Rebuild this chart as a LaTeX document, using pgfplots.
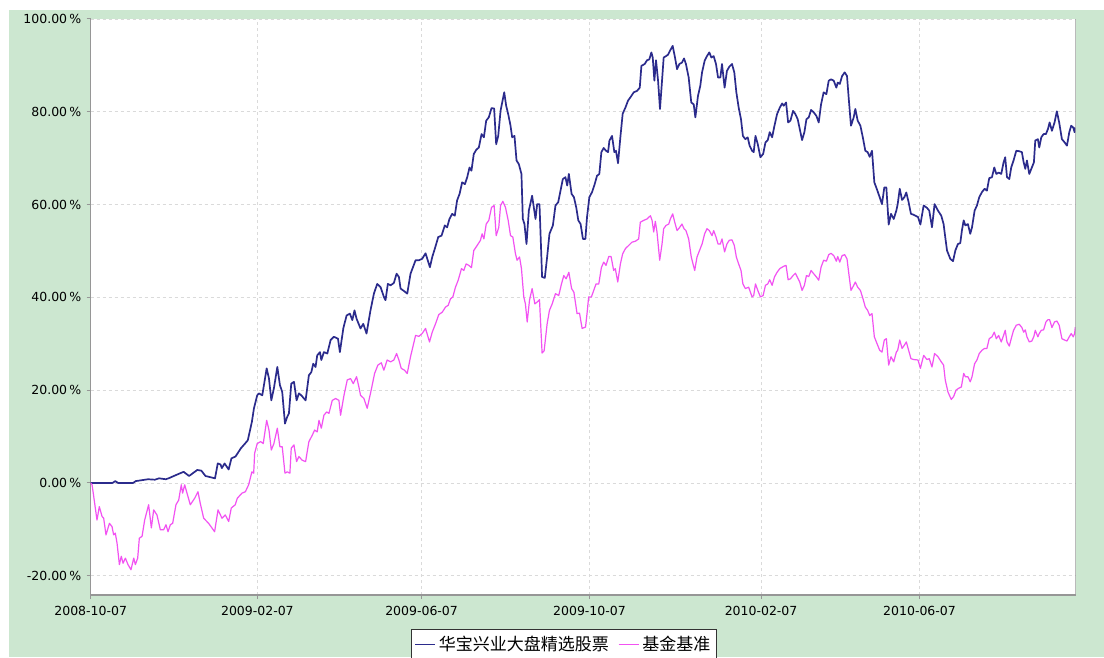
\documentclass[border=0pt]{standalone}
\usepackage{fontspec}
\setmainfont{DejaVu Sans}
\newfontfamily\cjk{Noto Sans CJK SC}
\usepackage{pgfplots}
\pgfplotsset{compat=1.18}
\usepackage{pgfplotstable}
\definecolor{bggreen}{RGB}{204,231,208}
\definecolor{fundblue}{RGB}{43,43,140}
\definecolor{benchmag}{RGB}{242,82,242}
\definecolor{gridgray}{RGB}{218,218,218}
\definecolor{axisgray}{RGB}{150,150,150}

% x: trading-calendar position in days since 2008-10-07, y: cumulative return in %
\pgfplotstableread{
day val
0 0
1 0
16 0
18 0.4
20 0
31 0
33 0.4
42 0.8
47 0.7
50 1.0
55 0.8
57 1.0
62 1.65
68 2.4
72 1.5
78 2.8
81 2.65
84 1.5
91 1.0
93 4.2
95 4.0
96 3.2
98 4.2
101 2.9
103 5.3
106 5.7
110 7.5
113 8.5
115 9.2
118 13.2
119.5 16.1
121.9 18.9
123.1 19.3
125.6 18.9
128.8 24.7
130.5 22.5
132.2 17.8
134.1 20.4
136.6 25.0
138.5 21.1
140.2 19.6
142.2 12.8
143.9 14.3
145.1 15.0
146.8 21.4
148.8 21.8
150.7 17.8
152.4 19.3
154.1 18.9
157.3 17.8
159.7 23.2
161.5 23.9
162.9 25.7
164.6 25.0
165.8 27.5
167.8 28.2
168.8 26.5
170.7 28.2
173.2 27.9
175.6 30.8
178 31.5
181 31.1
182.4 28.2
184.9 33.3
187.3 36.1
189.7 36.5
191.5 35.1
193.1 37.2
194.6 35.4
197.5 33.3
199.5 34.3
201.9 32.2
204.8 37.2
207.3 40.8
209.7 42.9
212.2 42.2
214.6 40.1
215.8 39.4
217.5 42.9
219.5 42.6
221.9 43.1
223.9 45.1
225.6 44.4
226.8 41.9
229.2 41.4
231.7 40.8
234.1 45.1
237.8 48.0
240.2 48.0
242.6 48.3
245.1 49.5
248.3 46.5
250.0 48.7
251.9 50.5
254.4 53.0
256.8 53.3
259.2 55.5
260.9 55.1
262.6 56.9
264.6 58.0
266.5 57.6
268.2 60.9
270.0 62.3
271.9 64.8
273.9 64.4
275.6 65.9
277.3 68.0
278.7 67.3
280.4 70.9
282.2 71.8
284.1 72.3
286.1 75.2
287.8 74.5
289.5 78.1
291.4 78.8
293.4 80.8
295.3 80.7
296.8 73.0
298.3 74.8
300.0 80.2
301.2 82.0
302.7 84.2
304.1 81.3
305.6 79.5
307.3 77.0
308.5 74.5
310.2 74.8
311.7 69.5
313.4 68.7
315.3 66.6
316.3 56.9
317.5 55.8
319.0 51.5
320.7 58.7
323.1 61.9
325.6 56.9
326.8 60.1
328.5 60.1
330.4 44.4
332.4 44.2
334.1 48.7
335.8 53.7
338.3 55.5
340.2 59.8
342.2 60.5
343.9 63.0
345.6 65.5
347.5 65.9
348.8 64.1
350.0 66.6
352.0 62.3
353.7 61.6
355.4 59.4
356.9 56.6
358.6 55.8
360.3 52.6
362.1 52.6
363.3 57.3
365.0 61.6
367.0 62.7
368.9 64.4
370.6 66.2
372.3 66.6
373.8 71.3
375.5 72.2
377.2 71.6
378.7 71.3
379.7 73.8
381.6 74.8
383.3 71.3
384.5 71.6
386.0 68.9
387.7 74.5
389.4 79.6
391.4 80.9
393.3 82.4
395.0 83.1
397.5 84.2
399.9 84.5
401.9 85.2
403.1 89.9
405.5 90.3
407.2 91.1
408.9 91.3
410.4 92.8
411.4 91.7
412.6 86.7
413.8 91.1
415.3 86.7
416.7 80.6
418.2 86.7
419.4 91.7
421.1 92.0
422.6 92.3
424.3 93.3
426.0 94.2
427.5 92.0
429.2 89.2
430.9 90.3
432.8 90.6
434.3 91.5
435.7 90.3
437.7 87.4
439.6 82.0
441.4 81.6
442.6 78.8
444.5 83.4
446.2 85.6
447.5 88.5
449.4 91.0
451.1 92.0
452.8 92.8
454.3 91.7
456.0 92.0
457.7 90.3
459.2 87.4
460.9 87.4
462.1 90.3
464.0 85.2
465.7 88.8
467.4 89.7
469.4 90.3
471.1 88.5
472.6 84.2
474.3 80.9
476.0 78.4
477.4 74.8
479.2 74.1
480.9 74.5
482.3 72.7
484.1 71.6
485.3 71.3
486.6 74.8
488.3 73.0
490.2 70.2
492.2 70.9
493.9 73.4
495.6 73.9
497.0 75.6
498.8 74.5
500.5 77.0
502.4 79.5
504.4 80.9
506.1 81.8
507.3 81.3
509.0 82.0
510.5 77.7
512.2 78.1
514.1 80.2
515.8 79.5
517.5 78.4
519.0 76.3
520.7 73.9
522.4 75.6
523.9 78.4
525.6 78.8
527.3 80.4
529.2 79.9
531.2 79.1
532.9 77.7
534.6 81.6
536.5 84.2
538.5 83.8
540.2 86.7
541.9 87.0
543.9 86.7
545.8 85.2
546.8 86.3
548.3 86.0
550.0 87.7
551.9 88.5
553.6 87.7
554.8 83.1
556.5 77.0
558.5 78.8
559.7 80.6
561.4 78.1
563.4 77.0
565.3 74.3
567.0 71.6
568.7 71.3
570.2 70.3
571.9 71.6
573.6 64.8
575.6 63.2
577.5 61.6
579.2 60.1
580.9 63.7
582.4 63.7
584.1 55.7
585.8 58.0
587.8 56.9
589.7 58.7
590.7 60.1
592.2 63.4
593.9 61.0
595.6 61.6
597.0 62.6
598.7 60.5
600.4 58.0
602.4 57.8
605.6 57.3
607.3 55.7
609.7 59.8
612.1 59.3
613.8 58.7
615.8 55.1
617.7 60.1
620.2 58.7
622.6 57.6
624.3 55.8
625.5 53.0
626.8 50.1
629.2 48.3
631.2 47.8
632.9 50.1
634.8 51.5
636.5 51.7
637.7 54.4
639.0 56.6
640.2 55.5
642.1 55.8
643.8 53.7
645.1 55.1
647.0 58.7
648.7 59.8
650.4 61.6
652.4 62.7
654.3 63.4
656.0 63.0
657.7 65.7
659.7 65.9
661.4 68.0
662.9 66.6
664.6 66.9
666.5 66.6
668.2 69.1
669.4 70.2
670.7 65.9
672.4 65.5
673.8 68.0
675.5 69.5
677.5 71.6
679.7 71.5
681.6 71.3
682.9 69.1
684.1 67.7
685.3 69.5
687.0 66.6
688.9 68.0
690.4 69.1
691.4 73.8
693.3 74.1
694.3 72.3
695.8 74.5
697.5 75.2
699.2 75.2
700.7 76.3
701.9 77.7
703.6 75.9
705.5 77.7
707.2 80.1
708.9 77.7
710.9 74.1
712.9 73.4
714.6 72.7
716.3 75.6
717.7 77.0
719.2 76.6
720.2 75.6
720.7 76.6
}\fund

\pgfplotstableread{
day val
0 0
1.0 -0.4
2.2 -2.9
4.6 -8.0
6.3 -5.1
8.3 -7.2
9.5 -7.6
11.2 -11.2
13.7 -8.7
15.6 -9.4
16.8 -11.2
18.0 -10.8
19.3 -13.0
21.0 -17.6
22.4 -15.8
23.7 -17.3
25.4 -16.2
27.3 -17.6
29.5 -18.7
31.5 -16.2
32.7 -17.6
34.4 -16.2
35.6 -11.9
37.6 -11.5
39.5 -8.0
42.4 -4.7
44.4 -9.7
46.1 -5.8
48.5 -6.9
51.0 -10.1
53.4 -10.1
55.1 -9.0
56.6 -10.5
58.3 -9.0
60.0 -8.7
62.4 -4.7
64.4 -3.7
66.3 -0.4
67.3 -2.2
68.8 -0.4
70.5 -2.2
72.9 -4.7
76.1 -3.3
78.5 -1.9
80.2 -4.4
82.7 -7.6
86.3 -8.7
90.7 -10.5
93.2 -5.8
96.1 -7.6
98.5 -6.9
101 -8.3
102.9 -5.4
105.8 -4.7
107.3 -3.3
110.7 -2.2
113.2 -1.9
115.6 -0.4
118 2.4
119.3 2.1
120.0 6.4
121.9 8.5
124.4 8.9
126.3 8.5
128.8 13.5
130.5 11.4
132.2 7.1
134.1 8.5
136.6 11.8
138.5 7.8
140.2 7.8
142.2 2.1
143.9 2.4
145.8 2.1
146.8 7.5
148.8 8.2
150.7 4.6
152.4 5.7
154.8 4.9
157.3 4.6
159.7 8.9
162.2 10.3
163.9 11.4
165.8 11.0
167.1 13.5
168.8 11.8
170.7 14.6
172.7 15.3
174.4 15.0
176.8 17.8
179.3 18.2
181.7 17.8
182.9 14.6
185.4 18.9
187.8 22.2
190.2 22.5
192.2 21.4
194.6 22.9
196.3 20.7
197.5 18.9
200.0 18.2
202.4 16.1
205.3 20.0
207.8 23.6
210.2 25.4
212.7 25.9
214.6 24.3
217.0 26.5
219.5 26.1
221.9 26.5
223.9 27.9
225.6 26.5
227.3 24.7
229.7 24.3
231.7 23.6
234.1 27.2
237.8 31.8
240.2 31.6
242.6 32.2
245.1 33.3
248.0 30.4
250.0 32.5
252.4 34.3
254.8 36.3
257.3 36.8
259.7 37.9
261.7 38.3
263.4 39.7
265.1 40.1
267.0 42.2
269.0 43.7
271.4 46.2
273.1 45.8
274.8 47.2
276.8 46.9
278.7 46.4
280.4 50.1
282.9 51.2
285.3 52.3
286.5 53.7
287.8 52.6
289.5 55.8
291.4 56.6
293.4 59.4
295.3 59.8
296.8 53.3
298.7 55.1
300.0 59.8
301.7 60.7
303.6 59.4
305.6 56.6
307.3 53.3
309.0 53.0
310.9 49.4
312.1 48.0
313.9 48.7
315.3 46.2
317.0 40.1
318.2 38.6
319.5 34.7
321.2 39.4
323.1 41.9
325.1 38.6
326.8 39.0
328.5 39.5
330.4 28.0
331.9 28.5
334.1 34.3
335.8 37.2
337.8 38.6
340.2 40.8
342.6 40.4
344.6 42.9
346.3 44.7
348.0 44.0
350.0 45.4
352.0 41.9
353.7 41.1
356.0 36.5
357.8 36.6
359.7 33.3
362.2 33.6
363.3 36.5
364.5 40.1
366.5 40.1
368.2 41.5
369.9 42.9
371.9 42.9
373.8 46.4
375.5 47.6
377.2 46.9
379.2 48.8
380.9 48.8
382.8 45.8
384.0 46.2
385.8 43.3
387.7 47.2
389.4 49.4
391.4 50.5
393.8 51.2
396.2 51.9
398.7 52.1
401.1 52.6
402.3 56.2
404.8 56.6
407.2 56.9
409.7 57.6
410.9 56.6
412.1 54.1
413.3 56.4
414.5 54.1
416.5 48.0
418.2 51.5
419.4 54.8
421.1 55.5
423.1 55.8
424.3 56.9
426.0 58.0
427.5 56.2
429.2 54.4
430.9 55.0
432.8 55.8
434.3 54.8
435.7 54.4
437.7 52.6
439.6 48.7
442.1 45.8
443.8 48.7
445.5 50.0
447.5 51.5
449.4 53.7
451.1 54.8
452.8 54.4
454.8 53.3
456.0 54.4
457.7 53.0
459.2 51.5
460.9 51.5
462.1 52.6
464.0 49.8
465.7 51.5
467.4 52.3
469.4 52.4
471.1 51.2
472.6 48.7
474.3 47.2
476.0 45.8
477.4 42.9
479.2 41.9
481.6 42.2
484.1 40.1
485.3 40.4
486.6 42.9
488.3 41.5
490.2 40.1
492.2 40.4
493.9 42.6
495.6 42.9
497.0 43.8
498.8 42.6
500.5 44.4
502.4 45.4
504.4 46.2
506.1 46.5
507.3 46.7
509.0 46.9
510.5 43.8
512.2 44.0
514.1 44.7
515.8 45.2
517.5 44.2
519.0 43.3
520.7 41.5
522.4 42.6
523.9 44.7
525.6 44.5
527.3 45.8
529.2 45.1
531.2 44.4
532.9 43.7
534.6 46.5
536.5 48.0
538.5 47.8
540.2 49.2
541.9 49.5
543.9 49.0
545.8 47.8
546.8 48.8
548.3 47.6
550.0 49.0
551.9 49.2
553.6 48.3
554.8 45.4
556.5 41.5
558.5 42.6
559.7 43.3
561.4 42.2
563.4 41.5
565.3 39.7
567.0 37.9
568.7 37.2
570.2 36.1
571.9 36.5
573.6 31.5
575.6 30.0
577.5 28.6
579.2 28.2
580.9 30.8
582.4 31.1
584.1 25.4
585.8 27.2
587.8 26.1
589.7 28.2
590.7 28.6
592.2 30.8
593.9 29.0
595.6 29.7
597.0 30.4
598.7 28.6
600.4 26.8
602.4 26.6
605.6 26.5
607.3 24.7
609.7 27.5
612.1 26.6
613.8 26.8
615.8 25.0
617.7 27.9
620.2 27.2
622.6 26.1
624.3 25.4
625.5 22.2
627.5 19.6
629.9 18.0
631.6 18.6
633.4 20.0
635.3 20.4
637.3 20.7
639.0 23.6
640.2 22.9
642.1 22.9
643.8 21.8
645.1 22.9
647.0 25.7
648.7 26.5
650.4 27.9
652.4 28.6
654.3 29.0
656.0 29.0
657.7 31.1
659.7 31.5
661.4 32.5
662.9 31.1
664.6 31.8
666.5 30.4
668.2 31.8
669.4 32.9
670.7 30.4
672.4 29.5
673.8 31.1
675.5 32.9
677.5 34.0
679.7 34.2
681.6 33.5
682.9 32.5
684.1 33.0
685.3 31.5
687.0 30.4
688.9 30.6
690.4 31.6
691.4 32.9
693.3 31.5
694.3 32.2
695.8 32.9
697.5 33.0
699.2 34.7
700.7 35.2
701.9 35.2
703.6 33.5
705.5 34.7
707.2 34.9
708.9 34.0
710.9 31.1
712.9 30.8
714.6 30.6
716.3 31.5
717.7 32.2
719.2 31.5
720.2 32.2
720.7 33.6
}\bench

\begin{document}
\begin{tikzpicture}[x=1pt,y=1pt]
\useasboundingbox (0,0) rectangle (1104,657);
\clip (0,0) rectangle (1104,657);
\fill[white] (0,0) rectangle (1104,657);
\fill[bggreen] (9,0) rectangle (1104,647);
\begin{axis}[
  at={(90.7pt,62pt)}, anchor=south west,
  scale only axis, width=985pt, height=576pt,
  xmin=0, xmax=721, ymin=-24.15, ymax=100,
  axis x line*=bottom, axis y line*=left,
  axis line style={axisgray, line width=1.3pt, -},
  axis background/.style={fill=white},
  grid=major,
  major grid style={gridgray, line width=0.8pt, dash pattern=on 3pt off 3pt},
  xtick={0,122,242.2,365.1,490.7,606.7},
  xticklabels={2008-10-07,2009-02-07,2009-06-07,2009-10-07,2010-02-07,2010-06-07},
  ytick={-20,0,20,40,60,80,100},
  yticklabels={-20.00\,\%,0.00\,\%,20.00\,\%,40.00\,\%,60.00\,\%,80.00\,\%,100.00\,\%},
  tick align=outside, major tick length=4pt,
  tick style={axisgray, line width=1pt},
  ticklabel style={font=\fontsize{12.5}{14}\selectfont, text=black},
  xticklabel style={yshift=-4pt},
  yticklabel style={xshift=-2pt},
  legend style={at={(0.3252,-0.059)}, anchor=north west, draw=black!80, line width=0.9pt,
    fill=white, font=\cjk\fontsize{17}{19}\selectfont, inner xsep=3pt, inner ysep=2pt,
    nodes={inner xsep=3pt, inner ysep=5pt},
    /tikz/every even column/.append style={column sep=6pt}},
  legend columns=2,
  legend image code/.code={\draw[#1, line width=1.4pt] (0pt,0pt) -- (20pt,0pt);},
]
\addplot[fundblue, line width=1.7pt, line join=round] table[x=day, y=val] {\fund};
\addlegendentry{华宝兴业大盘精选股票}
\addplot[benchmag, line width=1.2pt, line join=round] table[x=day, y=val] {\bench};
\addlegendentry{基金基准}
\draw[axisgray, line width=1.3pt] (rel axis cs:1,0) -- (rel axis cs:1,1);
\end{axis}
\end{tikzpicture}
\end{document}
